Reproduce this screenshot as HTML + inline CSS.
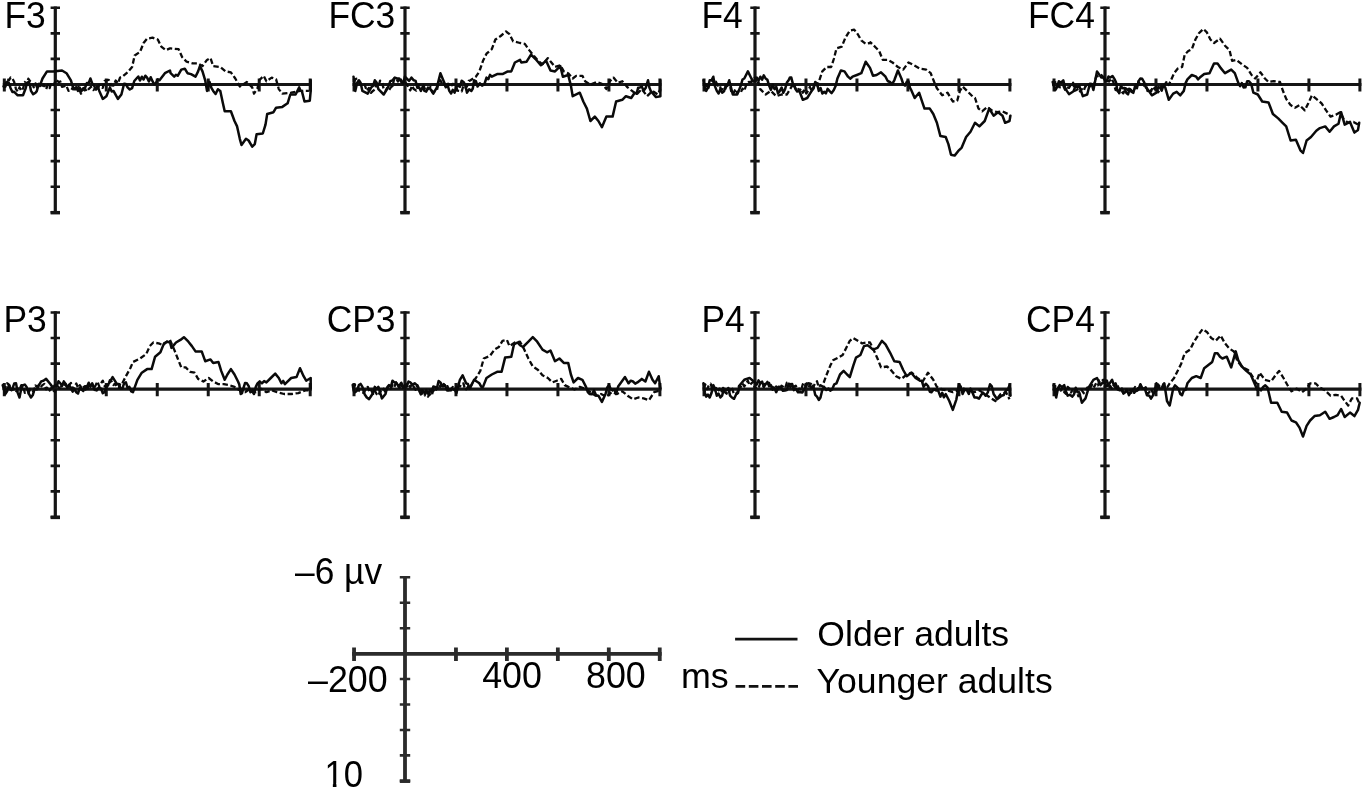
<!DOCTYPE html>
<html><head><meta charset="utf-8"><title>ERP waveforms</title>
<style>
html,body{margin:0;padding:0;background:#fff;}
body{width:1364px;height:790px;overflow:hidden;}
svg{display:block;}
text{font-family:"Liberation Sans",Arial,Helvetica,sans-serif;fill:#000;}
.w{fill:none;stroke:#0a0a0a;stroke-width:2.5;stroke-linejoin:round;stroke-linecap:round;}
.d{stroke-dasharray:5.4 2.6;stroke-width:2.3;stroke-linecap:butt;}
</style></head><body>
<svg width="1364" height="790" viewBox="0 0 1364 790">
<rect width="1364" height="790" fill="#fff"/>
<g>
<g stroke="#151515" fill="none">
<path d="M55.3 6.50V213.58M2.82 84.5H311.70" stroke-width="3.2"/>
<path d="M50.6 7.80h9.4M50.6 33.36h9.4M50.6 58.92h9.4M50.6 110.04h9.4M50.6 135.60h9.4M50.6 161.16h9.4M50.6 186.72h9.4M50.6 212.28h9.4" stroke-width="2.6"/>
<path d="M50.6 212.68h9.4" stroke-width="3.5"/>
<path d="M4.32 78.4v13.2M106.28 78.4v13.2M157.26 78.4v13.2M208.24 78.4v13.2M259.22 78.4v13.2M310.20 78.4v13.2" stroke-width="3.0"/>
</g>
<path class="w" d="M3.5 86.5 L5.3 86.7 L7.1 82 L8.8 82.8 L10.6 88.2 L12.4 92 L14.2 91.8 L17.7 95.3 L23 95.3 L25.7 88.2 L27 82.8 L28.4 82 L29.7 84.1 L31 90.9 L33.2 94.3 L35.5 92.7 L36.8 91.1 L38.1 86.5 L40.3 84.6 L42.5 78.5 L47 71.4 L53.2 71.4 L62 70.5 L66.5 73.2 L70.9 80.3 L72.7 86.4 L74.5 89.1 L76.2 87.2 L78 90.9 L79.8 87.7 L81.5 91.1 L83.3 88.2 L85.1 87.8 L86.9 82.9 L88.7 83.1 L90.4 78.5 L92.2 83.5 L94 85.6 L95.8 89.5 L97.5 86.1 L99.3 90.9 L102.8 98.9 L106.4 96.2 L109.9 87.4 L111.7 91.5 L113.5 90.9 L117.9 98.9 L121.4 94.5 L124.1 83.8 L125.8 84.1 L127.6 87.4 L129.8 89.5 L132.1 88.2 L134.3 81 L136.5 78.5 L138.3 76.5 L140 80.5 L141.8 76.7 L143.6 79.5 L145.3 75.7 L147.1 77.6 L148.9 81.4 L150.7 77.2 L152.5 81.2 L154.2 84.3 L156 82.9 L157.8 79.3 L159.5 80.3 L164.9 73.2 L170 70.5 L170.6 73.2 L174.2 76.7 L175.9 74.7 L177.7 75.8 L181.3 69.6 L184.8 68.7 L187.5 73.2 L191 74.1 L195.5 76.7 L198.1 71.4 L199.9 66.1 L202.5 71.4 L205.2 80.3 L207 90.9 L209.6 82 L211.4 87.9 L213.2 90.9 L215.6 94 L217.9 89.2 L220.3 90.9 L222.9 103.3 L224.7 111.3 L230.9 111.3 L234.5 121 L237.1 126.4 L239.8 138.8 L241.5 145 L246 138.8 L248.6 140.5 L252.2 146.7 L254.8 144.1 L256.6 134.3 L262.8 133.5 L265.5 124.6 L267.2 114 L273.5 112.2 L276.1 107.7 L282.3 106.9 L287.6 103.3 L290.3 94.5 L295.6 94.5 L299.2 87.4 L300.5 90.6 L301.8 90.9 L304.5 101.5 L309.8 100.7 L310.7 90.9 L310.7 80.3"/>
<path class="w d" d="M3.5 83.8 L5.3 84.8 L7.1 79.3 L8.9 80.3 L10.7 77.4 L12.4 78.5 L14.2 82.1 L16 89.1 L17.8 91.6 L19.5 87.3 L21.3 90.9 L23.1 88.3 L24.8 82 L26.6 84.7 L28.3 78.7 L30.1 81.2 L31.9 82.2 L33.7 87.4 L35.5 83.4 L37.2 87.9 L39 83.8 L41.4 87.8 L43.7 84.4 L46.1 89.1 L47.9 84.7 L49.6 88.1 L51.4 82.9 L53.8 85 L56.1 79.6 L58.5 82 L60.3 81.5 L62 86.9 L63.8 86.5 L66.2 85.4 L68.5 90.9 L70.9 90.9 L72.7 87.6 L74.4 91.4 L76.2 88.2 L78.6 86.9 L80.9 93.7 L83.3 91.8 L85.1 88.8 L86.8 91.5 L88.6 89.1 L91 86.9 L93.3 90 L95.7 88.2 L97.5 90.7 L99.2 84.9 L101 87.4 L102.8 87.8 L104.6 81.1 L106.4 80.3 L108.8 79.9 L111.1 85.4 L113.5 85.6 L115.7 80.5 L117.9 83.4 L120.1 77.5 L122.3 76.7 L127.6 72.3 L132.1 67 L134.7 55.5 L140 51.9 L143.6 43 L147.1 38.6 L152.5 37.7 L157.8 39.5 L161.3 46.6 L165.7 50.1 L170 48.4 L170.6 48.4 L178.6 49.2 L182.2 57.2 L186.6 61.7 L192.8 63.4 L198.1 63.4 L202.5 66.1 L207 59.9 L210.5 58.1 L213.2 66.1 L220.3 67 L225.6 71.4 L230.9 72.3 L235.3 78.5 L239.8 86.5 L246.9 82 L252.2 87.4 L254 93.6 L257.5 88.2 L259.3 80.3 L263.7 75.8 L266.4 81.2 L271.7 77.6 L276.1 79.4 L278.8 89.1 L282.3 93.6 L291.2 92.7 L300 90.9 L308.9 90.9"/>
<g stroke="#151515" fill="none">
<path d="M405 6.50V213.58M352.52 84.5H661.40" stroke-width="3.2"/>
<path d="M400.3 7.80h9.4M400.3 33.36h9.4M400.3 58.92h9.4M400.3 110.04h9.4M400.3 135.60h9.4M400.3 161.16h9.4M400.3 186.72h9.4M400.3 212.28h9.4" stroke-width="2.6"/>
<path d="M400.3 212.68h9.4" stroke-width="3.5"/>
<path d="M354.02 78.4v13.2M455.98 78.4v13.2M506.96 78.4v13.2M557.94 78.4v13.2M608.92 78.4v13.2M659.90 78.4v13.2" stroke-width="3.0"/>
</g>
<path class="w" d="M353.5 76.7 L355.3 90.9 L357.1 83 L358.9 80.3 L360.6 82.8 L362.4 90.9 L367.7 93.6 L371.3 87.4 L373.1 85.9 L374.8 80.3 L376.6 82.5 L378.4 89.1 L383.7 94.5 L388.1 87.4 L390.3 81.2 L392.5 80.3 L394.8 77.6 L397 78.5 L399.2 78.5 L401.4 82 L403.2 83.7 L404.9 76.5 L406.7 78.5 L409.1 80.9 L411.4 77.6 L413.8 80.3 L415.6 80.9 L417.3 87.8 L419.1 87.4 L420.9 91 L422.7 86.8 L424.5 90.9 L426.3 91.6 L428 87.6 L429.8 88.2 L433.3 93.6 L436.9 87.4 L440.4 73.2 L444 82 L445.8 87.3 L447.5 84.8 L449.3 90.9 L451.1 93.5 L452.8 89.8 L454.6 92.7 L456.4 86.5 L458.1 85.6 L459.9 86.8 L461.7 80.7 L463.5 82 L465.2 84.9 L467 92.7 L469.2 89.2 L471.4 90.9 L472.8 88.5 L474.1 80.3 L475.9 81.1 L477.6 86.5 L479.9 83.3 L482.1 85.6 L484.3 84.5 L486.5 77.6 L488.3 79.2 L490 74.9 L491.8 76.7 L497.1 74.1 L502.5 74.1 L507.8 71.4 L511.3 71.4 L514.9 62.5 L520 59.9 L521.3 62.5 L526.6 61.7 L531 54.6 L535.5 59 L540.8 65.2 L546.1 60.8 L550.5 70.5 L555 71.4 L560.3 66.1 L562.9 76.7 L568.2 75 L570.9 85.6 L572.7 96.2 L579.8 92.7 L583.3 101.5 L586.9 108.6 L590.4 121 L594.8 116.6 L598.4 121 L601.9 127.2 L606.4 116.6 L612.6 116.6 L616.1 101.5 L622.3 99.8 L625.9 96.2 L631.2 98 L634.7 92.7 L636.5 93.8 L638.2 87.7 L640 87.4 L641.8 86.5 L643.6 90.9 L645.8 87.7 L648 80.3 L649.4 87.5 L650.7 90.9 L656 97.1 L660.4 96.2 L660.4 80.3"/>
<path class="w d" d="M353.5 82 L355.8 78.8 L358 78.5 L360.2 84.2 L362.4 83.8 L364.6 84.7 L366.8 90.9 L368.9 87.9 L370.9 92.9 L373 90.9 L374.8 89.6 L376.6 83.8 L378.4 86.2 L380.1 80.6 L381.9 82 L383.7 89 L385.5 90.9 L387.3 87.6 L389 90.2 L390.8 87.4 L392.6 85.9 L394.3 78.3 L396.1 78.5 L397.9 81.5 L399.6 77.6 L401.4 80.3 L403.8 84.5 L406.1 83.2 L408.5 87.4 L410.3 90.4 L412 85.7 L413.8 89.1 L416.2 90.6 L418.5 85 L420.9 85.6 L423.3 85 L425.6 90.8 L428 89.1 L430.4 87 L432.7 92.5 L435.1 90.9 L436.9 90.4 L438.6 82.2 L440.4 80.3 L442.2 84.1 L443.9 82.5 L445.7 87.4 L448.1 83.6 L450.4 87 L452.8 83.8 L455.2 84.5 L457.5 90.6 L459.9 90.9 L461.7 91.5 L463.4 85.8 L465.2 87.4 L467 86.5 L468.7 80.9 L470.5 80.3 L475.9 76.7 L479.4 71.4 L483 60.8 L486.5 53.7 L491.8 49.2 L495.4 39.5 L500.7 36 L506 31.5 L509.5 34.2 L513.1 41.3 L520 43 L524.8 43.9 L529.2 50.1 L532.8 54.6 L538.1 60.8 L542.5 64.3 L547.9 58.1 L551.4 62.5 L555 67 L560.3 65.2 L563.8 71.4 L568.2 73.2 L572.7 78.5 L576.2 75.8 L582.4 75.8 L585.1 81.2 L590.4 84.7 L596.6 82 L601.9 83.8 L606.4 89.1 L609.9 81.2 L613.5 77.6 L617.9 82.9 L622.3 81.2 L627.6 87.4 L632.1 90.9 L636.5 94.5 L641.8 89.1 L647.1 96.2 L652.5 90.9 L657.8 94.5 L660.4 89.1"/>
<g stroke="#151515" fill="none">
<path d="M755 6.50V213.58M702.52 84.5H1011.40" stroke-width="3.2"/>
<path d="M750.3 7.80h9.4M750.3 33.36h9.4M750.3 58.92h9.4M750.3 110.04h9.4M750.3 135.60h9.4M750.3 161.16h9.4M750.3 186.72h9.4M750.3 212.28h9.4" stroke-width="2.6"/>
<path d="M750.3 212.68h9.4" stroke-width="3.5"/>
<path d="M704.02 78.4v13.2M805.98 78.4v13.2M856.96 78.4v13.2M907.94 78.4v13.2M958.92 78.4v13.2M1009.90 78.4v13.2" stroke-width="3.0"/>
</g>
<path class="w" d="M703.5 80.3 L704.9 88.2 L706.2 90.9 L708 87.6 L709.7 80.3 L711.5 80.2 L713.3 76.7 L715 86.4 L716.8 90.9 L718.6 93.5 L720.4 89 L722.2 92.7 L724 91.3 L725.7 85.6 L727.5 85.5 L729.2 80.3 L732.8 94.5 L737.2 94.5 L740.8 85.6 L742.5 79.5 L744.3 78.5 L747.9 71.4 L751.4 78.5 L753.2 81.5 L755 80.3 L756.8 77.5 L758.5 80.7 L760.3 76.7 L762.1 79.7 L763.8 75.3 L765.6 78.5 L767.4 79.8 L769.1 85.6 L770.9 89.9 L772.7 84.8 L774.5 89.1 L776.3 86.9 L778 93.4 L779.8 90.9 L781.6 87.5 L783.3 92.7 L785.1 89.1 L786.9 82.6 L788.6 80.3 L790 77.4 L791.3 77.6 L793 84.3 L794.8 87.4 L797 91.5 L799.3 90.9 L802.8 99.8 L807.2 98 L811.7 90.9 L813.5 88.6 L815.2 82 L817 83.5 L818.8 90.9 L820.6 88 L822.3 93.5 L824.1 91.8 L825.9 93.4 L827.6 88.9 L829.4 90.9 L831.6 93.1 L833.8 90 L835.6 86.1 L837.4 78.5 L840.9 70.5 L844.5 71.4 L848 76.7 L850.2 78.7 L852.5 76.7 L856.9 75 L861.3 73.2 L865.7 61.7 L870 67.9 L873 75.8 L876.6 75 L881 72.3 L885.5 76.7 L887.7 81 L889.9 82 L892.1 84.2 L894.3 80.3 L897.9 70.5 L901.4 78.5 L903.2 84 L905 85.6 L906.8 81.8 L908.5 81.2 L909.9 87.6 L911.2 90 L914.7 98 L919.1 92.7 L922.7 103.3 L924.5 108.6 L929.8 108.6 L933.3 114 L936.9 122.8 L940.4 136.1 L945.7 137 L948.4 144.1 L951 154.7 L954.6 155.6 L958.1 151.2 L961.7 147.6 L966.1 137 L970.5 131.7 L975 122.8 L979.4 126.4 L984.7 121 L989.2 108.6 L993.6 115.7 L998 112.2 L1002.5 115.7 L1005.1 122.8 L1009.5 121 L1010.4 115.7"/>
<path class="w d" d="M703.5 83.8 L705.8 84.5 L708 89.1 L710.2 82.5 L712.4 80.3 L714.2 83.9 L715.9 81.7 L717.7 85.6 L719.5 85.1 L721.2 89.6 L723 89.1 L724.8 90.2 L726.6 85.9 L728.4 87.4 L730.2 86.9 L731.9 94.1 L733.7 92.7 L735.5 89 L737.2 93 L739 90.9 L740.8 92.4 L742.5 88.6 L744.3 90.9 L746.5 83.9 L748.7 82 L751 82.1 L753.2 78.5 L755 77.8 L756.7 83.6 L758.5 82 L760.2 89.1 L762 90.9 L765.6 94.5 L770.9 90.9 L776.2 96.2 L781.5 94.5 L786.9 94.5 L792.2 85.6 L794 83.6 L795.7 89.3 L797.5 87.4 L799.3 90.7 L801 88.6 L802.8 92.7 L804.6 89.4 L806.3 93.5 L808.1 90.9 L809.9 86.9 L811.7 90.8 L813.5 87.4 L815.3 82.6 L817 85.3 L818.8 82 L822.3 71.4 L826.7 67 L831.2 67 L833.8 59 L836.5 48.4 L841.8 46.6 L845.4 37.7 L849.8 30.6 L854.2 29.7 L857.8 34.2 L861.3 40.4 L865.7 43.9 L870 43 L870.4 42.2 L875.7 47.5 L879.2 51 L882.8 59.9 L888.1 59.9 L892.5 62.5 L897.9 67 L903.2 69.6 L908.5 62.5 L913.8 65.2 L920 68.7 L926.2 69.6 L930.7 73.2 L934.2 82 L936.9 88.2 L942.2 95.3 L947.5 92.7 L952.8 101.5 L957.2 100.7 L959.9 90.9 L962.6 86.5 L967 90.9 L971.4 95.3 L975 98 L978.5 108.6 L982.1 111.3 L987.4 106.9 L991.8 110.4 L997.1 112.2 L1002.5 111.3 L1007.8 114 L1010.4 116.6"/>
<g stroke="#151515" fill="none">
<path d="M1105 6.50V213.58M1052.52 84.5H1361.40" stroke-width="3.2"/>
<path d="M1100.3 7.80h9.4M1100.3 33.36h9.4M1100.3 58.92h9.4M1100.3 110.04h9.4M1100.3 135.60h9.4M1100.3 161.16h9.4M1100.3 186.72h9.4M1100.3 212.28h9.4" stroke-width="2.6"/>
<path d="M1100.3 212.68h9.4" stroke-width="3.5"/>
<path d="M1054.02 78.4v13.2M1155.98 78.4v13.2M1206.96 78.4v13.2M1257.94 78.4v13.2M1308.92 78.4v13.2M1359.90 78.4v13.2" stroke-width="3.0"/>
</g>
<path class="w" d="M1052.7 82 L1055.3 90 L1057.1 87.1 L1058.9 81.2 L1061.1 82.7 L1063.3 80.3 L1065 87.2 L1066.8 90.9 L1069 94.1 L1071.3 92.7 L1073.5 91.3 L1075.7 85.6 L1077.5 87.3 L1079.2 85.6 L1082.8 96.2 L1087.2 94.5 L1089.9 83.8 L1091.7 84.1 L1093.4 90 L1097 71.4 L1101.4 77.6 L1103.2 77.5 L1105 80.3 L1106.8 81.3 L1108.5 76.5 L1110.3 77.6 L1112.5 76 L1114.7 79.4 L1116.1 82.6 L1117.4 90.9 L1119.2 92.6 L1120.9 86.1 L1122.7 88.2 L1124.5 87.9 L1126.2 92.7 L1128 94.3 L1129.7 88.9 L1131.5 90.9 L1133.3 92.8 L1135.1 86.2 L1136.9 88.2 L1138.7 80.9 L1140.4 78.5 L1142.2 78.8 L1144 82 L1145.8 87.3 L1147.5 89.1 L1151.9 95.3 L1156.4 92.7 L1158.2 87.2 L1159.9 87.4 L1161.7 90.6 L1163.4 85.7 L1165.2 87.4 L1168.8 99.8 L1173.2 93.6 L1176.7 91.8 L1180.3 95.3 L1183.8 90.9 L1185.6 83.1 L1187.4 79.4 L1191.8 75 L1196.2 76.7 L1198 79.4 L1199.8 77.6 L1204.2 74.1 L1209.5 73.2 L1214 63.4 L1217.5 63.4 L1220 67 L1220.6 67.9 L1225 73.2 L1231.2 69.6 L1234.8 73.2 L1238.3 82.9 L1240.1 86.1 L1241.8 83.1 L1243.6 87.4 L1245.4 87.3 L1247.2 81.2 L1249 81.2 L1251.2 83.9 L1253.4 92.7 L1257.8 94.5 L1262.2 101.5 L1268.5 102.4 L1272.9 114 L1278.2 118.4 L1282.6 122.8 L1286.2 126.4 L1290.6 140.5 L1295.9 139.7 L1300.4 150.3 L1303 153 L1306.6 140.5 L1311 137 L1316.3 130.8 L1319.9 128.1 L1325.2 126.4 L1329.6 131.7 L1334 126.4 L1338.5 123.7 L1341.1 112.2 L1344.7 124.6 L1350 121.9 L1354.4 132.6 L1358 129.9 L1359.2 122.8"/>
<path class="w d" d="M1052.7 85.6 L1054.9 82.3 L1057.1 82 L1059.3 87.2 L1061.5 87.4 L1063.3 85.7 L1065 89.7 L1066.8 87.4 L1069 87.9 L1071.3 83.8 L1073.1 82.7 L1074.8 90.8 L1076.6 90 L1078.4 88.2 L1080.1 91.5 L1081.9 89.1 L1083.7 90.9 L1085.4 86.2 L1087.2 87.4 L1089 84.1 L1090.7 87.9 L1092.5 85.6 L1094.3 84 L1096.1 76.7 L1101.4 75 L1106.7 80.3 L1109 81.6 L1111.2 78.5 L1113.4 82.1 L1115.6 90 L1117.4 87.5 L1119.1 93.3 L1120.9 90.9 L1123.3 93.4 L1125.6 88.2 L1128 90 L1129.8 87.4 L1131.5 92 L1133.3 89.1 L1135.1 88.4 L1136.8 81.6 L1138.6 82 L1140.4 84.8 L1142.2 82.7 L1144 85.6 L1145.8 83.9 L1147.5 91 L1149.3 89.1 L1151.1 91.3 L1152.8 86.7 L1154.6 89.1 L1156.4 86.3 L1158.1 92.3 L1159.9 90 L1161.7 85.5 L1163.4 87.7 L1165.2 83.8 L1167 81.1 L1168.7 85 L1170.5 81.2 L1174.1 73.2 L1177.6 68.7 L1182.1 67 L1184.7 54.6 L1188.3 51 L1191.8 49.2 L1195.4 39.5 L1198.9 33.3 L1203.3 28.9 L1206.9 32.4 L1210.4 39.5 L1214 43 L1220 38.6 L1225 45.7 L1229.5 50.1 L1232.1 60.8 L1236.5 59.9 L1241.9 64.3 L1247.2 67.9 L1251.6 75 L1255.2 78.5 L1260.5 72.3 L1264.9 78.5 L1268.5 82 L1273.8 81.2 L1280 82 L1282.6 90 L1286.2 98.9 L1290.6 105.1 L1295 107.7 L1299.5 105.1 L1304.8 110.4 L1308.3 103.3 L1311.9 95.3 L1316.3 98.9 L1321.6 103.3 L1326.1 110.4 L1330.5 116.6 L1335.8 114.8 L1340.2 112.2 L1343.8 119.3 L1348.2 122.8 L1353.5 121.9 L1358 124.6"/>
<g stroke="#151515" fill="none">
<path d="M55.3 311.20V518.28M2.82 389.2H311.70" stroke-width="3.2"/>
<path d="M50.6 312.50h9.4M50.6 338.06h9.4M50.6 363.62h9.4M50.6 414.74h9.4M50.6 440.30h9.4M50.6 465.86h9.4M50.6 491.42h9.4M50.6 516.98h9.4" stroke-width="2.6"/>
<path d="M50.6 517.38h9.4" stroke-width="3.5"/>
<path d="M4.32 383.1v13.2M106.28 383.1v13.2M157.26 383.1v13.2M208.24 383.1v13.2M259.22 383.1v13.2M310.20 383.1v13.2" stroke-width="3.0"/>
</g>
<path class="w" d="M2.7 385.1 L5.3 394 L7.1 391.3 L8.9 385.1 L10.7 389.7 L12.4 388.6 L14.2 383.6 L16 383.3 L17.8 393.1 L19.5 397.5 L21.2 389.1 L23 385.1 L24.8 384.6 L26.6 386.9 L28.8 393.7 L31 397.5 L32.8 395.1 L34.6 388.6 L36.8 389.4 L39 385.1 L41.2 381.4 L43.4 380.7 L46.1 378.9 L50.5 384.2 L52.8 387.5 L55 385.1 L56.8 386.1 L58.5 381.2 L60.3 383.3 L62.1 385.9 L63.8 381.4 L65.6 384.2 L67.4 387.9 L69.1 384.7 L70.9 388.6 L72.7 391.6 L74.4 389 L76.2 392.2 L78 393.6 L79.7 388.1 L81.5 389.5 L83.3 390.9 L85.1 386.2 L86.9 386.9 L88.7 382.7 L90.4 386.8 L92.2 383.3 L94.4 389.7 L96.6 390.4 L98.8 387.5 L101 388.6 L102.8 393.2 L104.6 392.2 L106.8 386.3 L109 383.3 L112.6 377.1 L117 384.2 L118.8 384 L120.5 388.6 L122.3 388.6 L124.1 383.3 L125.9 382.4 L127.6 388 L129.4 386.9 L131.2 391.3 L133 392.2 L137.4 379.8 L141.8 372.7 L147.1 369.1 L151.6 369.1 L155.1 356.7 L160.4 352.3 L164 343.4 L167.5 341.7 L170 342.5 L171.5 347.9 L176 342.5 L180.4 339.9 L183.9 337.2 L188.4 341.7 L191.9 346.1 L195.5 351.4 L201.7 351.4 L205.2 361.2 L210.5 359.4 L213.2 362.9 L218.5 362 L221.2 370.9 L224.7 379.8 L227.4 374.5 L230.9 369.1 L234.5 374.5 L238 381.5 L239.3 384.6 L240.7 394 L242 393.1 L243.3 388.6 L245.1 382.9 L246.9 383.3 L248.7 386.2 L250.4 392.2 L252.2 391.2 L254 394 L255.8 386.9 L257.5 383.3 L259.7 381.3 L261.9 383.3 L264.1 381.1 L266.4 382.4 L270.8 378 L275.2 373.6 L278.8 378 L281.4 383.3 L283.2 380.9 L284.9 384.2 L286.7 382.4 L291.2 378 L296.5 377.1 L300 368.2 L303.6 376.2 L306.2 380.7 L310.7 378 L310.7 388.6"/>
<path class="w d" d="M2.7 388.6 L4.9 389.1 L7.1 383.3 L9.3 384.9 L11.5 390.4 L13.8 388.8 L16 392.2 L17.8 388.3 L19.5 389.7 L21.3 385.1 L23.1 385.8 L24.8 392.8 L26.6 392.2 L28.4 393.4 L30.1 389 L31.9 390.4 L33.7 391.6 L35.4 385.5 L37.2 386.9 L39 384.8 L40.7 387.1 L42.5 385.1 L44.3 383.9 L46.1 389.3 L47.9 386.9 L49.7 390.5 L51.4 387.8 L53.2 390.4 L55 392 L56.7 386 L58.5 386.9 L60.3 389.6 L62 384.1 L63.8 386.9 L65.6 383.8 L67.3 387.4 L69.1 385.1 L70.9 382.9 L72.7 389.2 L74.5 386.9 L76.3 383.5 L78 387.8 L79.8 385.1 L81.6 388.2 L83.3 385.8 L85.1 388.6 L86.9 391.2 L88.6 385.3 L90.4 386.9 L92.2 384 L93.9 388.3 L95.7 385.1 L97.5 381.4 L99.2 386.5 L101 383.3 L102.8 380.7 L104.6 386.2 L106.4 385.1 L108.2 385.5 L109.9 380.1 L111.7 381.5 L113.5 385 L115.2 383.6 L117 386.9 L118.8 387.9 L120.5 382.8 L122.3 383.3 L125.9 376.2 L130.3 368.2 L133 362 L140 358.5 L146.2 354.1 L149.8 346.1 L153.3 342.5 L158.7 343.4 L163.1 345.2 L166.6 341.7 L170 339.9 L174.2 349.6 L177.7 358.5 L181.3 367.4 L185.7 367.4 L190.1 371.8 L194.6 372.7 L198.1 378.9 L203.4 381.5 L208.7 378 L213.2 381.5 L218.5 384.2 L223.8 384.2 L229.1 385.1 L234.5 386.9 L239.8 390.4 L245.1 392.2 L250.4 388.6 L255.7 392.2 L261 388.6 L266.4 392.2 L271.7 390.4 L277 392.2 L284.1 394 L291.2 394 L298.3 393.1 L305.4 390.4 L310.7 390.4"/>
<g stroke="#151515" fill="none">
<path d="M405 311.20V518.28M352.52 389.2H661.40" stroke-width="3.2"/>
<path d="M400.3 312.50h9.4M400.3 338.06h9.4M400.3 363.62h9.4M400.3 414.74h9.4M400.3 440.30h9.4M400.3 465.86h9.4M400.3 491.42h9.4M400.3 516.98h9.4" stroke-width="2.6"/>
<path d="M400.3 517.38h9.4" stroke-width="3.5"/>
<path d="M354.02 383.1v13.2M455.98 383.1v13.2M506.96 383.1v13.2M557.94 383.1v13.2M608.92 383.1v13.2M659.90 383.1v13.2" stroke-width="3.0"/>
</g>
<path class="w" d="M352.7 385.1 L354 391.8 L355.3 392.2 L357.1 390.5 L358.9 385.1 L360.6 383.9 L362.4 386.9 L364.6 394.2 L366.8 397.5 L369.1 399.1 L371.3 395.7 L373.1 393 L374.8 386.9 L376.6 389.1 L378.4 386.9 L381.9 398.4 L385.5 394 L387.2 387.2 L389 385.1 L390.8 387 L392.5 380.7 L394.3 382.4 L396.5 382.9 L398.7 386.9 L400.8 383.4 L402.9 388 L405 385.1 L406.8 386.4 L408.5 381.5 L410.3 382.4 L412.5 384.6 L414.7 383.3 L416.9 385.1 L419.1 390.4 L420.9 394.4 L422.7 390.4 L424.5 393.1 L426.3 390 L428 393.8 L429.8 390.4 L431.6 392.4 L433.3 386.5 L435.1 386.9 L436.9 388.4 L438.6 381 L440.4 382.4 L442.6 386.2 L444.8 385.1 L447.1 390.5 L449.3 390.4 L451.5 388.4 L453.7 389.5 L455 389.8 L456.4 393.1 L459.9 379.8 L462.6 375.3 L466.1 383.3 L467.9 384 L469.7 388.6 L474.1 379.8 L479.4 383.3 L481.2 386.7 L483 386.9 L486.5 378 L491.8 374.5 L497.1 371.8 L501.6 371.8 L505.1 357.6 L511.3 356.7 L514 344.3 L517.5 342.5 L520 345.2 L523 347 L528.4 341.7 L532.8 337.2 L537.2 341.7 L542.5 349.6 L547 352.3 L550.5 350.5 L555 361.2 L559.4 358.5 L563.8 362.9 L568.2 362.9 L570.9 374.5 L573.6 382.4 L578 378 L582.4 379.8 L586 386.9 L587.8 392.2 L589.5 394 L591.8 394.3 L594 390.4 L596.2 395.4 L598.4 395.7 L601.9 401.9 L605.5 394 L607.2 387.5 L609 385.1 L610.8 389.2 L612.6 390.4 L614.4 389.3 L616.1 394 L618.3 386.2 L620.5 383.3 L625 377.1 L628.5 383.3 L630.8 380.7 L633 381.5 L635.2 383.6 L637.4 382.4 L641.8 378.9 L645.4 381.5 L648.9 371.8 L652.5 379.8 L655.1 383.3 L658.7 376.2 L660.4 388.6"/>
<path class="w d" d="M352.7 388.6 L354.9 385 L357.1 385.1 L359.3 391 L361.5 392.2 L363.8 392.9 L366 388.6 L367.8 386.9 L369.5 392.1 L371.3 390.4 L373.1 393.9 L374.8 390.6 L376.6 394 L378.4 395.7 L380.1 391.2 L381.9 392.2 L383.7 388.8 L385.4 392.3 L387.2 388.6 L389 385.6 L390.7 388.8 L392.5 385.1 L394.3 387.2 L396.1 382.1 L397.9 383.3 L399.7 387.6 L401.4 382.7 L403.2 386.9 L405 388.8 L406.7 383.9 L408.5 385.1 L410.3 387.3 L412 383.9 L413.8 386.9 L415.6 389.8 L417.3 385.1 L419.1 388.6 L420.9 389.4 L422.7 395.3 L424.5 395.7 L426.3 392.3 L428 396.7 L429.8 394 L431.6 395.8 L433.3 390.5 L435.1 392.2 L436.9 387.4 L438.6 389.4 L440.4 385.1 L442.2 388.6 L443.9 384 L445.7 386.9 L447.5 386.1 L449.2 391.7 L451 390.4 L452.8 386.9 L454.6 390.1 L456.4 386.9 L458.2 383.6 L459.9 386.6 L461.7 383.3 L463.5 383.5 L465.2 390 L467 388.6 L468.8 384.8 L470.5 386.8 L472.3 383.3 L475.9 378 L480.3 370.9 L483.8 358.5 L490 355.8 L494.5 349.6 L498.9 347 L502.5 340.8 L506.9 339.9 L509.5 346.1 L514.9 342.5 L520 341.7 L523.9 348.7 L528.4 358.5 L532.8 366.5 L538.1 370 L542.5 375.3 L547.9 378 L552.3 382.4 L556.7 380.7 L561.2 378.9 L564.7 385.1 L570 387.7 L574.5 389.5 L579.8 386.9 L585.1 388.6 L590.4 392.2 L595.7 395.7 L601 394 L606.4 396.6 L611.7 392.2 L617 394 L622.3 391.3 L627.6 395.7 L633 399.3 L638.3 397.5 L643.6 398.4 L648.9 400.2 L654.2 392.2 L660.4 390.4"/>
<g stroke="#151515" fill="none">
<path d="M755 311.20V518.28M702.52 389.2H1011.40" stroke-width="3.2"/>
<path d="M750.3 312.50h9.4M750.3 338.06h9.4M750.3 363.62h9.4M750.3 414.74h9.4M750.3 440.30h9.4M750.3 465.86h9.4M750.3 491.42h9.4M750.3 516.98h9.4" stroke-width="2.6"/>
<path d="M750.3 517.38h9.4" stroke-width="3.5"/>
<path d="M704.02 383.1v13.2M805.98 383.1v13.2M856.96 383.1v13.2M907.94 383.1v13.2M958.92 383.1v13.2M1009.90 383.1v13.2" stroke-width="3.0"/>
</g>
<path class="w" d="M703.5 383.3 L704.9 392.8 L706.2 396.6 L708 394.6 L709.7 397.5 L711.5 393 L713.3 385.1 L715 388.8 L716.8 395.7 L718.6 393.7 L720.4 397.5 L722.1 395.7 L723.9 388.6 L726.1 390.6 L728.4 388.6 L730.1 395.6 L731.9 397.5 L734.1 398.8 L736.3 394 L738.1 392.7 L739.9 385.1 L744.3 379.8 L749.6 378 L755 382.4 L756.8 384.6 L758.5 380.4 L760.3 383.3 L762.1 381.7 L763.8 386.7 L765.6 384.2 L767.4 381.9 L769.1 386.3 L770.9 385.1 L772.7 389.7 L774.4 387.7 L776.2 392.2 L778.5 386.8 L780.7 386.9 L782.9 390.8 L785.1 390.4 L786.9 390.1 L788.6 383.7 L790.4 384.2 L792.2 384 L793.9 390.1 L795.7 388.6 L798 392.3 L800.2 392.2 L802.4 392.4 L804.6 388.6 L806.8 383.7 L809 383.3 L811.2 388 L813.5 386.9 L815.2 394.8 L817 396.6 L818.8 400 L820.5 397.5 L822.3 389.7 L824.1 386.9 L826.3 390 L828.5 388.6 L830.3 390.7 L832.1 389.5 L834.3 384.3 L836.5 383.3 L840 374.5 L843.6 370.9 L847.1 374.5 L849.8 377.1 L853.3 365.6 L856 357.6 L860.4 355 L864 346.1 L867.5 345.2 L870 347 L873 349.6 L877.5 347.9 L881.9 340.8 L885.5 344.3 L889.9 352.3 L894.3 361.2 L899.6 362 L903.2 370 L906.7 376.2 L911.2 372.7 L915.6 378 L920 380.7 L921.8 380.8 L923.6 386.9 L925.8 383.7 L928 386 L929.8 391.7 L931.5 392.2 L933.8 389.2 L936 390.4 L938.2 390.6 L940.4 396.6 L942.2 392.8 L943.9 397.3 L945.7 394 L949.3 401 L952.8 409.9 L956.4 399.3 L959 384.2 L960.8 386.8 L962.6 394 L964.8 389.3 L967 390.4 L968.8 394 L970.5 388.6 L972.3 392.2 L974.5 397.5 L976.7 397.5 L979 398.6 L981.2 394.8 L983.4 392.9 L985.6 395.7 L987.8 392.4 L990 384.2 L991.8 386.4 L993.6 394 L997.1 399.3 L1001.6 395.7 L1003.8 395 L1006 390.4 L1007.8 389.8 L1009.5 385.1 L1010.4 395.7"/>
<path class="w d" d="M703.5 388.6 L705.3 384.6 L707.1 389.2 L708.9 385.1 L710.7 383.8 L712.4 390.1 L714.2 390.4 L716 387.9 L717.7 391.6 L719.5 388.6 L721.3 392.8 L723 387.9 L724.8 392.2 L726.6 393.7 L728.3 387.9 L730.1 390.4 L731.9 387.9 L733.7 393.3 L735.5 392.2 L737.3 393.6 L739 385.8 L740.8 386.9 L742.6 383.6 L744.3 386.5 L746.1 383.3 L747.9 380.8 L749.6 385.3 L751.4 383.3 L753.2 381.8 L754.9 388.7 L756.7 386.9 L758.5 388 L760.2 383.5 L762 385.1 L763.8 386.9 L765.6 382.3 L767.4 383.3 L769.2 383 L770.9 388.7 L772.7 386.9 L774.5 389.3 L776.2 386.4 L778 388.6 L779.8 390 L781.5 385.7 L783.3 386.9 L785.1 388.4 L786.8 382.8 L788.6 385.1 L790.4 387.3 L792.2 384.4 L794 386.9 L795.8 385.6 L797.5 390.4 L799.3 388.6 L801.1 390.3 L802.8 384.3 L804.6 386.9 L806.4 383.5 L808.1 387.7 L809.9 385.1 L811.7 382.6 L813.4 386.8 L815.2 383.3 L817 381.2 L818.7 387.2 L820.5 385.1 L822.3 386.3 L824.1 381.5 L826.7 374.5 L830.3 365.6 L833 360.3 L838.3 357.6 L842.7 355 L846.2 347.9 L849.8 340.8 L853.3 338.1 L857.8 340.8 L862.2 343.4 L866.6 342.5 L870 342.5 L873.9 350.5 L877.5 358.5 L881 367.4 L887.2 366.5 L891.7 370.9 L896.1 376.2 L901.4 378.9 L906.7 374.5 L912 372.7 L917.4 378 L922.7 381.5 L928 372.7 L933.3 379.8 L936.9 386.9 L942.2 389.5 L947.5 390.4 L952.8 392.2 L958.1 390.4 L963.5 388.6 L968.8 390.4 L974.1 392.2 L979.4 390.4 L984.7 394 L990 397.5 L995.4 401 L1000.7 394 L1006 392.2 L1009.5 399.3"/>
<g stroke="#151515" fill="none">
<path d="M1105 311.20V518.28M1052.52 389.2H1361.40" stroke-width="3.2"/>
<path d="M1100.3 312.50h9.4M1100.3 338.06h9.4M1100.3 363.62h9.4M1100.3 414.74h9.4M1100.3 440.30h9.4M1100.3 465.86h9.4M1100.3 491.42h9.4M1100.3 516.98h9.4" stroke-width="2.6"/>
<path d="M1100.3 517.38h9.4" stroke-width="3.5"/>
<path d="M1054.02 383.1v13.2M1155.98 383.1v13.2M1206.96 383.1v13.2M1257.94 383.1v13.2M1308.92 383.1v13.2M1359.90 383.1v13.2" stroke-width="3.0"/>
</g>
<path class="w" d="M1053.5 385.1 L1054.8 389.7 L1056.2 397.5 L1058 388.3 L1059.7 385.1 L1062 387.1 L1064.2 385.1 L1066 391.8 L1067.7 395.7 L1070 394.7 L1072.2 396.6 L1074 394.5 L1075.7 387.7 L1077.5 392.3 L1079.2 392.2 L1081.9 402.8 L1085.5 398.4 L1089 386.9 L1093.4 379.8 L1097 378 L1100.5 385.1 L1102.8 382.4 L1105 383.3 L1106.8 380.5 L1108.5 385.3 L1110.3 382.4 L1112.1 379.8 L1113.8 385 L1115.6 383.3 L1117.8 389.6 L1120 390.4 L1121.8 388.5 L1123.5 393.5 L1125.3 392.2 L1127.1 390.2 L1128.9 395.2 L1130.7 392.2 L1132.5 389.9 L1134.2 392.8 L1136 390.4 L1138.2 390 L1140.4 384.2 L1142.6 388.7 L1144.8 388.6 L1147 395.3 L1149.3 395.7 L1151 398.6 L1152.8 395.7 L1154.6 391.4 L1156.4 383.3 L1158.2 387.4 L1159.9 388.6 L1162.1 388.5 L1164.3 383.3 L1167 401 L1169.7 405.5 L1173.2 388.6 L1175 385.3 L1176.7 386.9 L1178.5 388.8 L1180.3 394 L1182 395.3 L1183.8 390.4 L1185.6 389.8 L1187.4 383.3 L1191.8 378 L1196.2 376.2 L1200.7 378 L1204.2 368.2 L1208.7 364.7 L1212.2 362 L1214.9 353.2 L1217.5 353.2 L1220 356.7 L1222.4 358.5 L1226.8 356.7 L1231.2 367.4 L1235.7 351.4 L1238.3 360.3 L1241.9 366.5 L1246.3 370.9 L1250.7 374.5 L1255.2 385.1 L1257 389.4 L1258.7 388.6 L1260.9 390.4 L1263.1 386.9 L1265.3 385.3 L1267.6 387.7 L1271.1 402.8 L1277.3 402.8 L1281.7 411.7 L1287.1 412.6 L1291.5 420.5 L1295.9 422.3 L1299.5 427.6 L1303 436.5 L1306.6 425.9 L1310.1 420.5 L1314.5 416.1 L1319.9 415.2 L1325.2 411.7 L1329.6 418.8 L1334 417 L1337.6 415.2 L1341.1 409 L1344.7 417 L1350 412.6 L1354.4 416.1 L1358 409.9 L1359.7 402.8"/>
<path class="w d" d="M1053.5 390.4 L1055.3 386.1 L1057.1 389.7 L1058.9 386.9 L1060.7 390.6 L1062.4 387.3 L1064.2 392.2 L1066 393.8 L1067.7 386.9 L1069.5 388.6 L1071.3 392.4 L1073 388.4 L1074.8 392.2 L1076.6 390.6 L1078.3 396.2 L1080.1 394 L1081.9 390.4 L1083.7 393.2 L1085.5 390.4 L1087.3 387.5 L1089 390.2 L1090.8 386.9 L1092.6 383.5 L1094.3 386.8 L1096.1 383.3 L1097.9 385.4 L1099.6 380.7 L1101.4 381.5 L1103.2 379.7 L1104.9 386.7 L1106.7 385.1 L1108.5 388.5 L1110.2 386 L1112 388.6 L1113.8 385.3 L1115.6 387.9 L1117.4 385.1 L1119.2 389.4 L1120.9 388.1 L1122.7 392.2 L1124.5 394.5 L1126.2 389.5 L1128 392.2 L1129.8 390 L1131.5 393.9 L1133.3 390.4 L1135.1 387 L1136.8 391 L1138.6 386.9 L1140.4 384.8 L1142.2 390.1 L1144 388.6 L1145.8 387.3 L1147.5 393.8 L1149.3 392.2 L1151.1 389.1 L1152.8 392.8 L1154.6 388.6 L1156.4 390.9 L1158.1 384.3 L1159.9 386.9 L1161.7 388.1 L1163.4 383.9 L1165.2 385.1 L1167.5 386.9 L1169.7 383.3 L1174.1 378 L1177.6 370.9 L1181.2 363.8 L1184.7 353.2 L1190 349.6 L1193.6 342.5 L1198 335.5 L1202.5 329.2 L1206.9 331.9 L1211.3 338.1 L1215.7 340.8 L1220 336.3 L1220.6 335.5 L1225 343.4 L1229.5 348.7 L1233.9 351.4 L1237.4 361.2 L1242.7 367.4 L1248.1 370 L1253.4 378 L1256 383.3 L1259.6 372.7 L1264.9 379.8 L1271.1 381.5 L1275.5 375.3 L1279.1 370.9 L1283.5 378 L1288 386 L1291.5 391.3 L1296.8 388.6 L1302.1 392.2 L1306.6 388.6 L1310.1 383.3 L1315.4 383.3 L1319.9 387.7 L1325.2 390.4 L1330.5 395.7 L1335.8 394.8 L1341.1 395.7 L1344.7 401 L1348.2 405.5 L1351.8 398.4 L1357.1 398.4 L1359.7 404.6"/>
<g stroke="#2b2b2b" fill="none">
<path d="M405 576.00V782.12M352.15 653.8H661.65" stroke-width="3.8"/>
<path d="M399.8 577.30h10.4M399.8 602.74h10.4M399.8 628.18h10.4M399.8 679.06h10.4M399.8 704.50h10.4M399.8 729.94h10.4M399.8 755.38h10.4M399.8 780.82h10.4" stroke-width="2.6"/>
<path d="M399.8 781.22h10.4" stroke-width="3.5"/>
<path d="M354.05 647.6v13.4M455.95 647.6v13.4M506.90 647.6v13.4M557.85 647.6v13.4M608.80 647.6v13.4M659.75 647.6v13.4" stroke-width="3.8"/>
</g>
<path d="M735.1 639.2H797.5" stroke="#111" stroke-width="2.8" fill="none"/>
<path d="M735.6 686.3H798.2" stroke="#111" stroke-width="2.8" stroke-dasharray="9.6 3.6" fill="none"/>
</g>
<text transform="translate(4.4 27.9) scale(1 1.04)" font-size="35.4">F3</text>
<text transform="translate(328.4 27.9) scale(1 1.04)" font-size="35.4">FC3</text>
<text transform="translate(701.4 27.9) scale(1 1.04)" font-size="35.4">F4</text>
<text transform="translate(1028.0 27.9) scale(1 1.04)" font-size="35.4">FC4</text>
<text transform="translate(3.5 332.4) scale(1 1.04)" font-size="35.4">P3</text>
<text transform="translate(326.7 332.4) scale(1 1.04)" font-size="35.4">CP3</text>
<text transform="translate(701.5 332.4) scale(1 1.04)" font-size="35.4">P4</text>
<text transform="translate(1026.0 332.4) scale(1 1.04)" font-size="35.4">CP4</text>
<text transform="translate(295.0 584.2) scale(1 1.04)" font-size="35.3">–6 µv</text>
<text transform="translate(308.0 692.3) scale(1 1.04)" font-size="35.8">–200</text>
<text transform="translate(482.2 687.9) scale(1 1.04)" font-size="35.8">400</text>
<text transform="translate(586.0 687.9) scale(1 1.04)" font-size="35.8">800</text>
<text transform="translate(681 687.9) scale(1 1.0)" font-size="35.8">ms</text>
<text transform="translate(324.45 786.9) scale(1 1.065)" font-size="34.6">10</text>
<path d="M325.5 783.2h7.35v5h-7.35zM336.45 783.2h7v5h-7z" fill="#fff"/>
<text transform="translate(817.3 646.45) scale(1 1.0)" font-size="35.6">Older adults</text>
<text transform="translate(816.6 692.9) scale(1 1.0)" font-size="35.6">Younger adults</text>
</svg>
</body></html>
